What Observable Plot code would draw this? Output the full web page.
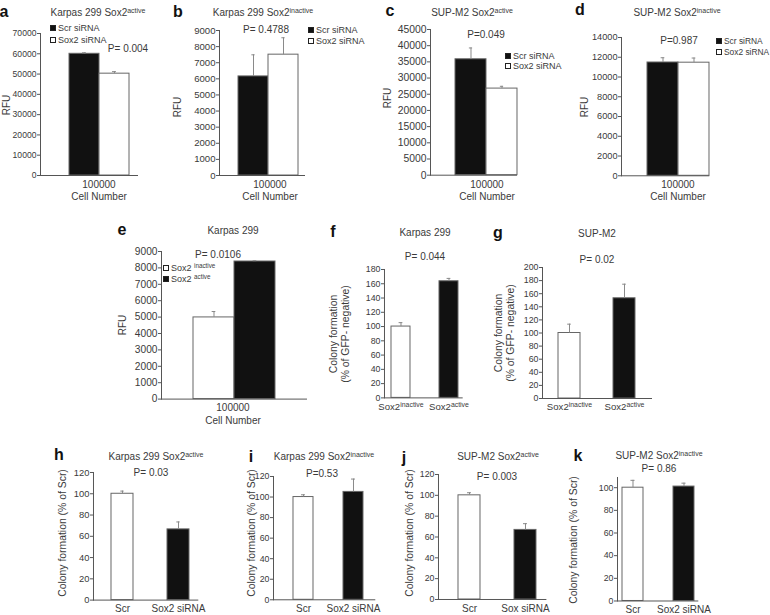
<!DOCTYPE html>
<html><head><meta charset="utf-8">
<script src="https://cdn.jsdelivr.net/npm/d3@7"></script>
<script src="https://cdn.jsdelivr.net/npm/@observablehq/plot@0.6"></script>
<style>
body{margin:0;background:#fff;}
#fig{position:relative;width:770px;height:615px;overflow:hidden;font-family:"Liberation Sans",Arial,Helvetica,sans-serif;color:#3a3a3a;}
.pl{position:absolute;}
.t{position:absolute;white-space:nowrap;transform:translate(-50%,-50%);font-size:10px;line-height:1;z-index:2;}
.lt{position:absolute;white-space:nowrap;transform:translate(0,-50%);font-size:9px;line-height:1;z-index:2;}
.letter{font-weight:bold;font-size:16px;color:#111;}
.rot{transform:translate(-50%,-50%) rotate(-90deg);text-align:center;line-height:1.2;}
.sq{position:absolute;width:6px;height:6px;border:1px solid #222;box-sizing:border-box;z-index:2;}
sup{font-size:0.7em;vertical-align:0;position:relative;top:-0.5em;}
</style></head>
<body><div id="fig"></div>
<script>
// ---------- data ----------
const cellNumber = "100000";
const siRNA = ["Scr siRNA", "Sox2 siRNA"];
const aValues = [60000, 50200], aErrors = [500, 1000];
const bValues = [6150, 7500],   bErrors = [1340, 1050];
const cValues = [35800, 26750], cErrors = [3500, 700];
const dValues = [11470, 11450], dErrors = [480, 470];
const eGroups = ["Sox2 ^inactive", "Sox2 ^active"];
const eValues = [4980, 8390],   eErrors = [360, 50];
const fgGroups = ["Sox2^inactive", "Sox2^active"];
const fValues = [100, 163.5],   fErrors = [5.5, 4];
const gValues = [100, 153],     gErrors = [13.5, 21.5];
const hiGroups = ["Scr", "Sox2 siRNA"];
const jGroups = ["Scr", "Sox siRNA"];
const hValues = [100, 66.5],    hErrors = [2.5, 7];
const iValues = [100, 105],     iErrors = [2.2, 12.5];
const jValues = [100, 66.8],    jErrors = [2.5, 6];
const kValues = [100, 101],     kErrors = [6.5, 3];

const fig = document.getElementById("fig");
const fontFamily = '"Liberation Sans", Arial, Helvetica, sans-serif';
const BLACK = "#111", WHITE = "#fff";

function supHTML(s){ const [a,b] = s.split("^"); return b===undefined ? a : a + "<sup>" + b + "</sup>"; }

function drawPanel(o){
  const data = o.cats.map((c,i)=>({cat:c, v:o.values[i], e:o.errors[i]}));
  const W = o.xEnd - o.axisX, H = o.base - o.yTop;
  const step = W / (2 - o.pi + 2*o.po), bw = step*(1-o.pi);
  const inset = Math.max(0, (bw-4)/2);
  const ml = 44, mr = 6, mt = 8, mb = o.xTicks ? 24 : 4;
  const marks = [
    Plot.barY(data, {x:"cat", y:"v", fill:"cat", stroke:"#666", strokeWidth:1}),
    Plot.ruleX(data, {x:"cat", y1:"v", y2:d=>d.v+d.e, stroke:"#8a8a8a", strokeWidth:1}),
    Plot.tickY(data, {x:"cat", y:d=>d.v+d.e, insetLeft:inset, insetRight:inset, stroke:"#8a8a8a", strokeWidth:1}),
    Plot.axisY({ticks:d3.range(0, o.yMax+1e-9, o.step), tickFormat:d3.format("d"), tickSize:3, tickPadding:1, label:null, stroke:"#555"}),
    Plot.frame({anchor:"left", stroke:"#555"}),
    Plot.ruleY([0], {stroke:"#555"})
  ];
  if (o.xTicks) marks.push(Plot.axisX({tickSize:0, tickPadding:o.xPad ?? 5, label:null, fontSize:o.xfs ?? 10, tickFormat:d=>d.replace("^","\u0001")}));
  const svg = Plot.plot({
    width: ml+W+mr, height: mt+H+mb,
    marginLeft: ml, marginRight: mr, marginTop: mt, marginBottom: mb,
    style: {background:"transparent", overflow:"visible", fontFamily, fontSize:o.fs+"px", color:"#3a3a3a"},
    x: {type:"band", domain:o.cats, paddingInner:o.pi, paddingOuter:o.po, align:o.align, axis:null},
    y: {domain:[0, o.yMax], axis:null},
    color: {domain:o.cats, range:o.fills},
    marks
  });
  // superscripts in x tick labels
  svg.querySelectorAll('g[aria-label="x-axis tick label"] text').forEach(t=>{
    const s = t.textContent;
    if (s.includes("\u0001")){
      const [a,b] = s.split("\u0001");
      t.textContent = "";
      const t1 = document.createElementNS("http://www.w3.org/2000/svg","tspan"); t1.textContent = a;
      const t2 = document.createElementNS("http://www.w3.org/2000/svg","tspan"); t2.textContent = b;
      t2.setAttribute("font-size","0.72em"); t2.setAttribute("dy","-0.45em");
      t.append(t1,t2);
    }
  });
  const wrap = document.createElement("div");
  wrap.className = "pl";
  wrap.style.left = (o.axisX - ml) + "px";
  wrap.style.top = (o.yTop - mt) + "px";
  wrap.appendChild(svg);
  fig.appendChild(wrap);
}

const topFills = [BLACK, WHITE], wbFills = [WHITE, BLACK];
const panels = [
  {cats:siRNA, values:aValues, errors:aErrors, fills:topFills, axisX:40, xEnd:138, yTop:33, base:175, yMax:70000, step:10000, pi:0, po:0.633, align:0.763, fs:8.6},
  {cats:siRNA, values:bValues, errors:bErrors, fills:topFills, axisX:219, xEnd:305, yTop:30, base:175, yMax:9000, step:1000, pi:0, po:0.40, align:0.744, fs:9.6},
  {cats:siRNA, values:cValues, errors:cErrors, fills:topFills, axisX:430, xEnd:517, yTop:29.3, base:175, yMax:45000, step:5000, pi:0, po:0.37, align:1, fs:10.4},
  {cats:siRNA, values:dValues, errors:dErrors, fills:topFills, axisX:621, xEnd:709.3, yTop:36.7, base:175, yMax:14000, step:2000, pi:0, po:0.41, align:1, fs:9.2},
  {cats:eGroups, values:eValues, errors:eErrors, fills:wbFills, axisX:160.7, xEnd:306.7, yTop:250.7, base:398.3, yMax:9000, step:1000, pi:0, po:0.767, align:0.5, fs:10.2},
  {cats:fgGroups, values:fValues, errors:fErrors, fills:wbFills, axisX:384.3, xEnd:463, yTop:269.3, base:397.7, yMax:180, step:20, pi:0.605, po:0.112, align:0.58, fs:8.8, xTicks:true, xPad:5, xfs:9.6},
  {cats:fgGroups, values:gValues, errors:gErrors, fills:wbFills, axisX:541.7, xEnd:651.7, yTop:266.7, base:397.7, yMax:200, step:20, pi:0.593, po:0.296, align:0.5, fs:8.8, xTicks:true, xPad:5, xfs:9.6},
  {cats:hiGroups, values:hValues, errors:hErrors, fills:wbFills, axisX:92.7, xEnd:198, yTop:471.7, base:599.3, yMax:120, step:20, pi:0.6, po:0.229, align:0.665, fs:9.4, xTicks:true, xPad:5, xfs:10},
  {cats:hiGroups, values:iValues, errors:iErrors, fills:wbFills, axisX:272.7, xEnd:375, yTop:476, base:599.3, yMax:120, step:20, pi:0.6, po:0.323, align:0.62, fs:8.8, xTicks:true, xPad:5, xfs:10},
  {cats:jGroups, values:jValues, errors:jErrors, fills:wbFills, axisX:438.3, xEnd:546.7, yTop:474.3, base:599.3, yMax:120, step:20, pi:0.607, po:0.271, align:0.65, fs:8.8, xTicks:true, xPad:5, xfs:10},
  {cats:hiGroups, values:kValues, errors:kErrors, fills:wbFills, axisX:616.7, xEnd:698, yTop:476.5, base:600, yMax:109, step:20, pi:0.59, po:0.092, align:0.5, fs:8.8, xTicks:true, xPad:5, xfs:10}
];
panels.forEach(drawPanel);

// ---------- annotations ----------
const texts = [
  // panel letters
  ["a",4,12,"letter"],["b",178,12,"letter"],["c",390,11,"letter"],["d",580,10,"letter"],["e",122,230,"letter"],
  ["f",333,232,"letter"],["g",498,233,"letter"],["h",59,455,"letter"],["i",251,457,"letter"],["j",404,458,"letter"],["k",578,456,"letter"],
  // titles
  ["Karpas 299 Sox2^active",98,13],["Karpas 299 Sox2^inactive",263,13],["SUP-M2 Sox2^active",472,13],["SUP-M2 Sox2^inactive",677,13],
  ["Karpas 299",233,231],["Karpas 299",425,233],["SUP-M2",597,234],
  ["Karpas 299 Sox2^active",156,457],["Karpas 299 Sox2^inactive",324,457],["SUP-M2 Sox2^active",498,457],["SUP-M2 Sox2^inactive",659,456],
  // p values
  ["P= 0.004",128,49],["P= 0.4788",266,30],["P=0.049",486,35],["P=0.987",679,41],["P= 0.0106",218,255],
  ["P= 0.044",425,257],["P= 0.02",597,260],["P= 0.03",151,473],["P=0.53",322,474],["P= 0.003",497,477],["P= 0.86",659,469],
  // x labels (cell number)
  [cellNumber,99,185],["Cell Number",99,197],[cellNumber,270,185],["Cell Number",270,197],
  [cellNumber,487,185],["Cell Number",487,197],[cellNumber,678,185],["Cell Number",678,197],
  [cellNumber,233,408],["Cell Number",233,421]
];
texts.forEach(([t,x,y,c])=>{
  const d = document.createElement("div");
  d.className = "t" + (c ? " "+c : "");
  d.style.left = x+"px"; d.style.top = y+"px";
  d.innerHTML = supHTML(t);
  fig.appendChild(d);
});
// rotated axis titles
const yTitles = [
  ["RFU",7,105],["RFU",178,107],["RFU",388,98],["RFU",585,107],["RFU",123,325],
  ["Colony formation<br>(% of GFP- negative)",340,334],["Colony formation<br>(% of GFP- negative)",505,333],
  ["Colony formation (% of  Scr)",63,533],["Colony formation (% of  Scr)",252,533],["Colony formation (% of  Scr)",410,533],["Colony formation (% of  Scr)",574,540]
];
yTitles.forEach(([t,x,y])=>{
  const d = document.createElement("div");
  d.className = "t rot"; d.style.left = x+"px"; d.style.top = y+"px";
  d.style.fontSize = t.startsWith("RFU") ? "10px" : "10.4px";
  d.innerHTML = t;
  fig.appendChild(d);
});
// legends
const legends = [
  {x:50, y:[28,40], labels:siRNA, fills:topFills, fs:9},
  {x:308, y:[30,41], labels:siRNA, fills:topFills, fs:9},
  {x:505, y:[56,66], labels:siRNA, fills:topFills, fs:9},
  {x:716, y:[41,52], labels:siRNA, fills:topFills, fs:8.4},
  {x:163, y:[268,279], labels:eGroups, fills:wbFills, fs:9}
];
legends.forEach(L=>{
  L.labels.forEach((lab,i)=>{
    const s = document.createElement("div");
    s.className = "sq"; s.style.left = L.x+"px"; s.style.top = (L.y[i]-3)+"px"; s.style.background = L.fills[i];
    fig.appendChild(s);
    const d = document.createElement("div");
    d.className = "lt"; d.style.left = (L.x+8)+"px"; d.style.top = L.y[i]+"px"; d.style.fontSize = L.fs+"px";
    d.innerHTML = supHTML(lab);
    fig.appendChild(d);
  });
});
</script></body></html>
